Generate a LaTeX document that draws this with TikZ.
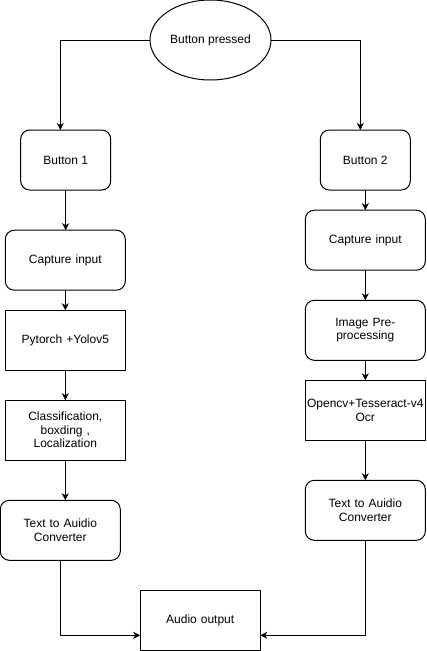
\documentclass[tikz,border=0pt]{standalone}
\usepackage{fontspec}
\setmainfont{Liberation Sans}
\usetikzlibrary{shapes.geometric,arrows.meta}
\begin{document}
\begin{tikzpicture}[x=1pt,y=-1pt,
  base/.style={draw=black,line width=1pt,inner sep=1pt,outer sep=0pt,align=center,
    font=\fontsize{12pt}{13.5pt}\selectfont,text=black},
  rbox/.style={base,rounded corners=9pt,minimum width=120pt,minimum height=60pt,text width=118pt},
  sbox/.style={base,minimum width=120pt,minimum height=60pt,text width=118pt},
  btn/.style={base,rounded corners=9pt,minimum width=90pt,minimum height=60pt},
  ell/.style={base,ellipse,minimum width=121pt,minimum height=80pt},
  arr/.style={line width=1pt,-{Stealth[length=7pt,width=7pt,inset=2pt]}}]
\useasboundingbox (0,0) rectangle (427,651);
\node[ell] (ell) at (210.5,40) {Button pressed};
\node[btn] (b1) at (65.7,160) {Button 1};
\node[btn] (b2) at (365.3,160) {Button 2};
\node[rbox] (capL) at (65.3,260.2) {Capture input};
\node[sbox] (pyt) at (65.3,340.3) {Pytorch +Yolov5};
\node[sbox] (cls) at (65.3,430.2) {Classification,\\boxding ,\\Localization};
\node[rbox] (ttaL) at (60.3,530.3) {Text to Auidio\\Converter};
\node[rbox] (capR) at (365.3,240.2) {Capture input};
\node[rbox] (pre) at (365.3,330.3) {Image Pre-\\processing};
\node[sbox] (ocv) at (365.3,410.3) {Opencv+Tesseract-v4\\Ocr};
\node[rbox] (ttaR) at (365.3,510.3) {Text to Auidio\\Converter};
\node[sbox] (aud) at (200.2,620.3) {Audio output};
\draw[arr] (ell.west) -| ([xshift=-5.4pt]b1.north);
\draw[arr] (ell.east) -| ([xshift=-5pt]b2.north);
\draw[arr] (b1.south) -- (b1.south |- capL.north);
\draw[arr] (capL.south) -- (pyt.north);
\draw[arr] (pyt.south) -- (cls.north);
\draw[arr] (cls.south) -- (cls.south |- ttaL.north);
\draw[arr] (ttaL.south) |- ([yshift=-15pt]aud.west);
\draw[arr] (b2.south) -- (b2.south |- capR.north);
\draw[arr] (capR.south) -- (pre.north);
\draw[arr] (pre.south) -- (ocv.north);
\draw[arr] (ocv.south) -- (ttaR.north);
\draw[arr] (ttaR.south) |- ([yshift=-15pt]aud.east);
\end{tikzpicture}
\end{document}
